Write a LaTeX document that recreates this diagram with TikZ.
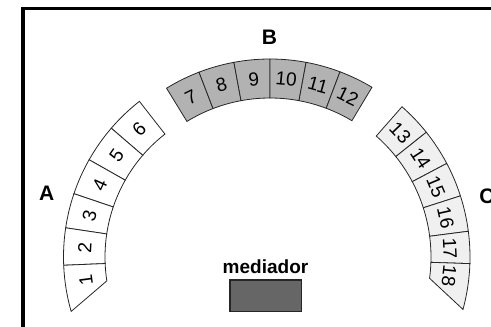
\documentclass[tikz,border=0pt]{standalone}
\usepackage{fontspec}
\setmainfont{Liberation Sans}
\tikzset{
  seat/.style={draw=black!85, line width=0.8pt, line join=miter},
  seatA/.style={seat, fill=white},
  seatB/.style={seat, fill=black!30},
  seatC/.style={seat, fill=black!6},
  num/.style={font=\fontsize{19}{22}\selectfont, inner sep=0pt},
  group/.style={font=\fontsize{21}{24}\selectfont\bfseries, inner sep=0pt, anchor=base},
}
% one seat of a curved row: style, start angle, end angle, inner radius, outer radius
\newcommand\seatcell[5]{%
  \path[#1] (#2:#5) arc[start angle=#2, end angle=#3, radius=#5]
    -- (#3:#4) arc[start angle=#3, end angle=#2, radius=#4] -- cycle;}
\begin{document}
\begin{tikzpicture}[x=1pt, y=1pt]
\useasboundingbox (0,0) rectangle (491,-327);
\clip (0,0) rectangle (491,-327);

% room frame
\draw[line width=3.5pt] (23,-8.5) rectangle (560,-380);

% row A
\begin{scope}[shift={(261,-257)}]
  \foreach \a/\b in {128/139.3, 139.3/150.5, 150.5/161.3, 161.3/171.5, 171.5/182.4}
    \seatcell{seatA}{\a}{\b}{156}{197.5};
  \path[seatA] (182.4:197.5) arc[start angle=182.4, end angle=196, radius=197.5]
    -- (188.8:156) arc[start angle=188.8, end angle=182.4, radius=156] -- cycle;
  \foreach \k/\a in {6/133.65, 5/144.9, 4/155.9, 3/166.4, 2/177, 1/187.5}
    \node[num, rotate=\a-90] (n\k) at (\a:176.5) {\k};
\end{scope}

% row B
\begin{scope}[shift={(270,-257)}]
  \foreach \a/\b in {111/121.5, 100.5/111, 90/100.5, 79.5/90, 69.3/79.5, 59/69.3}
    \seatcell{seatB}{\a}{\b}{159}{198};
  \foreach \k/\a in {7/116.25, 8/105.75, 9/95.25, 10/84.75, 11/74.4, 12/64.15}
    \node[num, rotate=\a-90] (n\k) at (\a:178.5) {\k};
\end{scope}

% row C
\begin{scope}[shift={(270,-257)}]
  \foreach \a/\b in {38.6/48.7, 27.9/38.6, 17.8/27.9, 7.4/17.8, -1.9/7.4}
    \seatcell{seatC}{\a}{\b}{161}{200};
  \path[seatC] (-1.9:200) arc[start angle=-1.9, end angle=-15.2, radius=200]
    -- (-7.6:161) arc[start angle=-7.6, end angle=-1.9, radius=161] -- cycle;
  \foreach \k/\a in {13/43.65, 14/33.25, 15/22.85, 16/12.6, 17/2.75, 18/-6}
    \node[num, rotate=\a-90] (n\k) at (\a:180) {\k};
\end{scope}

% group labels
\node[group] (A) at (46.7,-200) {A};
\node[group] (B) at (269.5,-44.3) {B};
\node[group] (C) at (487,-203) {C};

% mediator
\node[font=\fontsize{19}{22}\selectfont\bfseries, inner sep=0pt, anchor=base] (med) at (265.5,-273.3) {mediador};
\node[draw=black!85, line width=1.2pt, fill=black!60, minimum width=71.7pt, minimum height=31.7pt, inner sep=0pt] (medbox) at (265.85,-295.85) {};
\end{tikzpicture}
\end{document}
